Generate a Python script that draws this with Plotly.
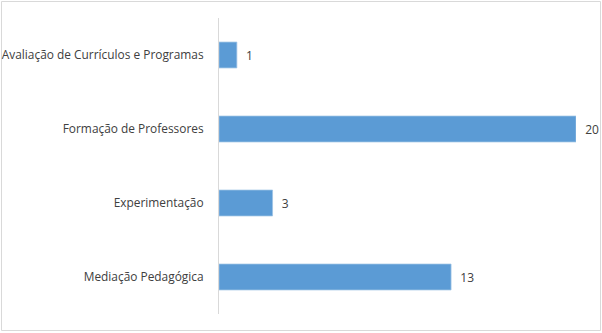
import plotly.graph_objects as go

categories = ["Avaliação de Currículos e Programas", "Formação de Professores", "Experimentação", "Mediação Pedagógica"]
values = [1, 20, 3, 13]

W, H = 602, 333
L, R, T, B = 219, 26, 18, 19
pw = W - L - R
ph = H - T - B

fig = go.Figure(go.Bar(
    y=categories, x=values, orientation="h",
    marker=dict(color="#5B9BD5", line=dict(color="#9DC3E6", width=0.75)),
    width=0.35,
    text=[f"  {v}" for v in values], textposition="outside", cliponaxis=False,
    textfont=dict(family="Open Sans", size=12, color="#404040"),
))

fig.update_layout(
    width=W, height=H, margin=dict(l=L, r=R, t=T, b=B, autoexpand=False),
    paper_bgcolor="white", plot_bgcolor="white",
    showlegend=False,
    font=dict(family="Open Sans", size=12, color="#404040"),
    xaxis=dict(range=[0, 20], showgrid=False, zeroline=False, showticklabels=False, showline=False, automargin=False),
    yaxis=dict(autorange="reversed", showgrid=False, zeroline=False, showline=True, linecolor="#D9D9D9", linewidth=1,
               automargin=False, ticks="", ticklabelstandoff=12, tickfont=dict(size=11.9, color="#404040")),
    shapes=[dict(type="rect", xref="paper", yref="paper",
                 x0=(1.5 - L) / pw, x1=(600.5 - L) / pw,
                 y0=(H - B - 330.5) / ph, y1=(H - B - 1.5) / ph,
                 line=dict(color="#D9D9D9", width=1), fillcolor="rgba(0,0,0,0)", layer="below")],
)

fig.write_html("out.html", config={"displayModeBar": False}, post_script="document.body.style.margin='0';")
